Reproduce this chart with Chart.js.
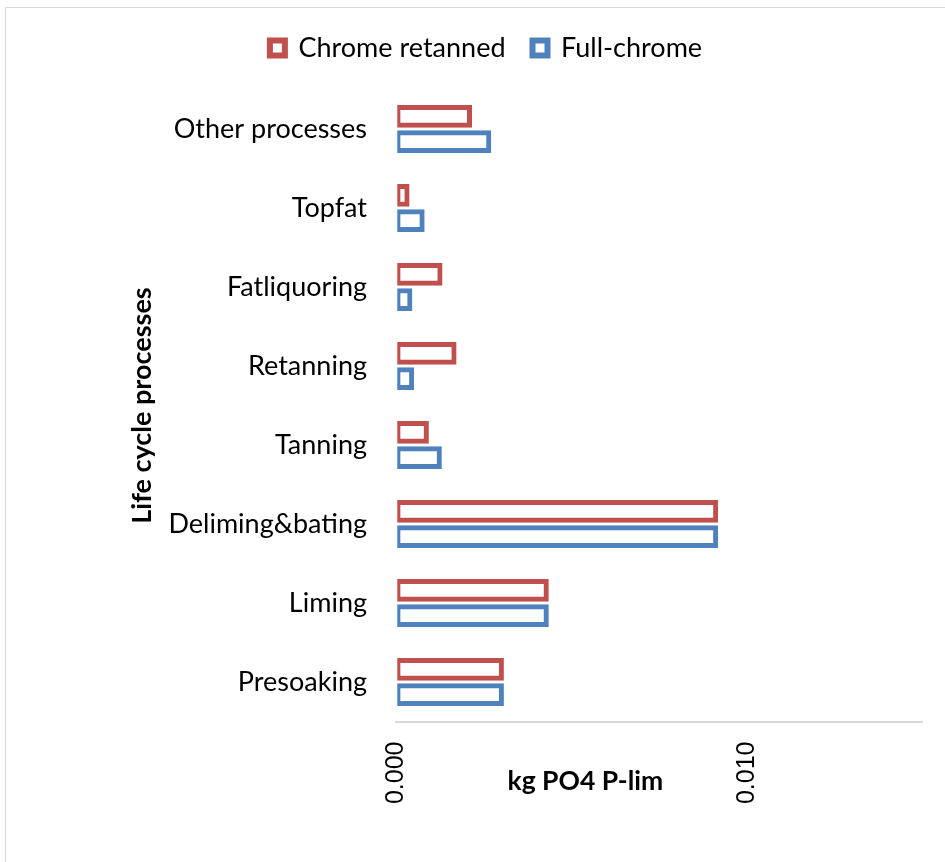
<!DOCTYPE html>
<html>
<head>
<meta charset="utf-8">
<script src="https://cdn.jsdelivr.net/npm/chart.js@4"></script>
<style>
  body { margin: 0; background: #fff; }
  #frame { position: absolute; left: 5px; top: 7px; width: 960px; height: 900px; border: 1.5px solid #d9d9d9; }
  #wrap { position: absolute; left: 0; top: 0; width: 945px; height: 862px; }
</style>
</head>
<body>
<div id="frame"></div>
<div id="wrap"><canvas id="chart"></canvas></div>
<script>
// categories, top to bottom
const processes = ['Other processes', 'Topfat', 'Fatliquoring', 'Retanning', 'Tanning', 'Deliming&bating', 'Liming', 'Presoaking'];

// kg PO4 P-lim per process
const chromeRetanned = [0.0022, 0.00042, 0.00136, 0.00176, 0.00097, 0.00922, 0.00439, 0.00311];
const fullChrome = [0.00275, 0.00085, 0.0005, 0.00055, 0.00134, 0.00922, 0.00439, 0.00311];

const xTicks = [0, 0.01];

// x axis title sits between the tick labels, a bit left of centre
const axisTitle = {
    id: 'axisTitle',
    afterDraw(chart) {
        const ctx = chart.ctx;
        const x = chart.scales.x;
        ctx.save();
        ctx.font = 'bold 26.5px Lato';
        ctx.fillStyle = '#000';
        ctx.textAlign = 'center';
        ctx.textBaseline = 'middle';
        ctx.fillText('kg PO4 P-lim', x.left + (x.right - x.left) * 0.36, x.top + 60);
        ctx.restore();
    }
};

// negative inflate eats into the border, so widths are padded by 2.3
const barBorder = { top: 7.3, right: 7.3, bottom: 7.3, left: 5.5 };

const ctx = document.getElementById('chart').getContext('2d');
const chart = new Chart(ctx, {
    type: 'bar',
    data: {
        labels: processes,
        datasets: [{
            label: 'Chrome retanned',
            data: chromeRetanned,
            backgroundColor: '#ffffff',
            borderColor: '#C0504D',
            borderWidth: barBorder,
            borderSkipped: false,
            inflateAmount: -1.15
        }, {
            label: 'Full-chrome',
            data: fullChrome,
            backgroundColor: '#ffffff',
            borderColor: '#4F81BD',
            borderWidth: barBorder,
            borderSkipped: false,
            inflateAmount: -1.15
        }]
    },
    options: {
        indexAxis: 'y',
        responsive: true,
        maintainAspectRatio: false,
        animation: false,
        categoryPercentage: 0.634,
        barPercentage: 1,
        layout: { padding: { left: 50, right: 23, top: 7.5, bottom: 0 } },
        plugins: {
            legend: {
                position: 'top',
                labels: {
                    color: '#000',
                    font: { family: 'Lato', size: 27 },
                    boxWidth: 15,
                    boxHeight: 15,
                    padding: 27,
                    generateLabels(chart) {
                        const items = Chart.defaults.plugins.legend.labels.generateLabels(chart);
                        items.forEach(item => { item.lineWidth = 6; });
                        return items;
                    }
                }
            },
            tooltip: { enabled: false }
        },
        scales: {
            x: {
                type: 'linear',
                min: 0,
                max: 0.015,
                grid: { display: false, drawTicks: false },
                border: { display: true, color: '#d9d9d9', width: 2 },
                afterBuildTicks(scale) {
                    scale.ticks = xTicks.map(v => ({ value: v }));
                },
                afterFit(scale) { scale.height = 140.5; },
                ticks: {
                    minRotation: 90,
                    maxRotation: 90,
                    padding: 20,
                    color: '#000',
                    font: { family: 'Liberation Sans', size: 25 },
                    callback: v => v.toFixed(3)
                }
            },
            x2: {
                type: 'linear',
                position: 'top',
                display: true,
                grid: { display: false, drawTicks: false },
                border: { display: false },
                ticks: { display: false },
                afterFit(scale) { scale.height = 18; }
            },
            y: {
                grid: { display: false, drawTicks: false },
                border: { display: false },
                afterFit(scale) { scale.width = 346; },
                ticks: {
                    padding: 29,
                    color: '#000',
                    font: { family: 'Lato', size: 27 }
                },
                title: {
                    display: true,
                    text: 'Life cycle processes',
                    color: '#000',
                    font: { family: 'Lato', size: 27, weight: 'bold' },
                    padding: { top: 75.8, bottom: 0 }
                }
            }
        }
    },
    plugins: [axisTitle]
});
</script>
</body>
</html>
